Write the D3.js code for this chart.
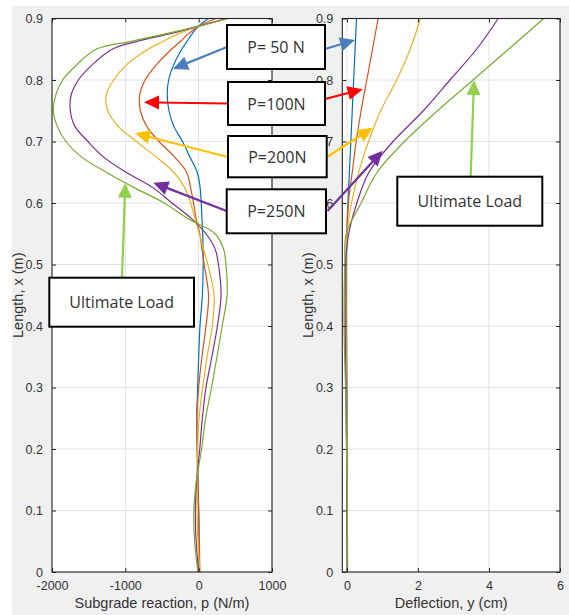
<!DOCTYPE html>
<html>
<head>
<meta charset="utf-8">
<script src="https://cdn.jsdelivr.net/npm/d3@7"></script>
<style>
  body { margin: 0; background: #ffffff; }
  svg text { font-family: "Liberation Sans", Arial, Helvetica, sans-serif; }
</style>
</head>
<body>
<svg id="fig" width="569" height="615"></svg>
<script>
// ---- Load cases ----
const loadCases = ["P= 50 N", "P=100N", "P=200N", "P=250N", "Ultimate Load"];
const lineColors = ["#0072BD", "#D95319", "#EDB120", "#7E2F8E", "#77AC30"];

// ---- Subgrade reaction p (N/m) along the pile length x (m) ----
const lengthPts = [0, 0.05, 0.1, 0.15, 0.2, 0.25, 0.3, 0.35, 0.4, 0.45, 0.5, 0.525, 0.55, 0.575,
                   0.6, 0.625, 0.65, 0.675, 0.7, 0.725, 0.75, 0.775, 0.8, 0.825, 0.85, 0.8625, 0.875, 0.8875, 0.9];
const reactionP50  = [5, 5, 0, -10, -20, -25, -14, 0, 18, 50, 62, 60, 55, 45, 35, 20, -20, -120, -220, -340,
                      -405, -428, -410, -340, -230, -160, -90, 0, 132];
const reactionP100 = [15, 10, 0, -10, -20, -25, 0, 45, 100, 135, 75, 45, 15, -35, -70, -110, -165, -330, -540, -710,
                      -795, -805, -730, -575, -370, -250, -140, 0, 237];
const reactionP200 = [20, -10, -20, -20, -15, 5, 55, 115, 185, 210, 125, 65, 10, -50, -110, -190, -340, -580, -850, -1100,
                      -1240, -1262, -1160, -980, -690, -490, -280, 0, 373];
const reactionP250 = [0, -35, -45, -27, 15, 50, 100, 180, 255, 305, 270, 225, 100, -100, -365, -625, -990, -1300, -1510, -1690,
                      -1750, -1740, -1640, -1450, -1180, -850, -400, 0, 390];
const reactionPult = [-10, -55, -65, -30, 40, 95, 175, 250, 320, 388, 372, 340, 225, -150, -470, -880, -1260, -1600, -1810, -1930,
                      -1982, -1950, -1855, -1660, -1400, -940, -450, 0, 405];

// ---- Deflection y (cm) along the pile length x (m) ----
const deflLengthPts = [0, 0.1, 0.2, 0.3, 0.4, 0.5, 0.55, 0.6, 0.65, 0.7, 0.75, 0.8, 0.85, 0.9];
const deflP50  = [0.01, 0.01, 0.005, 0, -0.01, -0.01, 0.0, 0.03, 0.07, 0.11, 0.15, 0.19, 0.23, 0.27];
const deflP100 = [0.01, 0.01, 0, -0.01, -0.02, -0.02, 0.0, 0.04, 0.15, 0.26, 0.40, 0.56, 0.72, 0.88];
const deflP200 = [0.02, 0.01, 0, -0.02, -0.03, -0.03, 0.0, 0.13, 0.33, 0.61, 0.95, 1.40, 1.78, 2.07];
const deflP250 = [0.01, 0, -0.01, -0.03, -0.05, -0.04, 0.05, 0.28, 0.62, 1.30, 2.15, 2.90, 3.65, 4.26];
const deflPult = [0.02, 0.01, -0.01, -0.04, -0.08, -0.06, -0.02, 0.40, 0.85, 1.62, 2.55, 3.55, 4.55, 5.54];

// ---- Tick labels ----
const lengthTicks = [0, 0.1, 0.2, 0.3, 0.4, 0.5, 0.6, 0.7, 0.8, 0.9];
const lengthTickLabels = ["0", "0.1", "0.2", "0.3", "0.4", "0.5", "0.6", "0.7", "0.8", "0.9"];
const reactionTicks = [-2000, -1000, 0, 1000];
const reactionTickLabels = ["-2000", "-1000", "0", "1000"];
const deflTicks = [0, 2, 4, 6];
const deflTickLabels = ["0", "2", "4", "6"];

const svg = d3.select("#fig");

// figure background
svg.append("rect").attr("x", 12).attr("y", 6).attr("width", 557).attr("height", 609).attr("fill", "#f0f0f0");

const plotTop = 18.5, plotBottom = 572;

function drawPanel(cfg) {
  const x = d3.scaleLinear().domain(cfg.xDomain).range([cfg.left, cfg.right]);
  const y = d3.scaleLinear().domain([0, 0.9]).range([plotBottom, plotTop]);
  const g = svg.append("g");

  g.append("rect")
    .attr("x", cfg.left).attr("y", plotTop)
    .attr("width", cfg.right - cfg.left).attr("height", plotBottom - plotTop)
    .attr("fill", "#ffffff");

  // grid
  g.append("g").selectAll("line").data(cfg.xTicks).join("line")
    .attr("x1", d => x(d)).attr("x2", d => x(d))
    .attr("y1", plotTop).attr("y2", plotBottom)
    .attr("stroke", "#e2e2e2").attr("stroke-width", 1);
  g.append("g").selectAll("line").data(lengthTicks).join("line")
    .attr("x1", cfg.left).attr("x2", cfg.right)
    .attr("y1", d => y(d)).attr("y2", d => y(d))
    .attr("stroke", "#e2e2e2").attr("stroke-width", 1);

  // curves
  const line = d3.line()
    .x(d => x(d[1]))
    .y(d => y(d[0]))
    .curve(d3.curveCatmullRom.alpha(0.5));
  cfg.series.forEach((vals, i) => {
    const pts = cfg.lengths.map((L, k) => [L, vals[k]]);
    g.append("path")
      .attr("d", line(pts))
      .attr("fill", "none")
      .attr("stroke", lineColors[i])
      .attr("stroke-width", 1.2);
  });

  // axes with inward ticks on all sides
  const styleAxis = sel => {
    sel.select(".domain").remove();
    sel.selectAll(".tick line").attr("stroke", "#262626");
    sel.selectAll(".tick text").attr("fill", "#333333")
      .style("font-size", "12.5px").style("font-family", "'Liberation Sans', Arial, sans-serif");
  };
  g.append("g").attr("transform", `translate(${cfg.left},0)`)
    .call(d3.axisLeft(y).tickValues(lengthTicks).tickSize(-4).tickPadding(9)
      .tickFormat((d, i) => lengthTickLabels[i]))
    .call(styleAxis);
  g.append("g").attr("transform", `translate(${cfg.right},0)`)
    .call(d3.axisRight(y).tickValues(lengthTicks).tickSize(-4).tickFormat(""))
    .call(styleAxis);
  g.append("g").attr("transform", `translate(0,${plotBottom})`)
    .call(d3.axisBottom(x).tickValues(cfg.xTicks).tickSize(-4).tickPadding(9)
      .tickFormat((d, i) => cfg.xTickLabels[i]))
    .call(styleAxis);
  g.append("g").attr("transform", `translate(0,${plotTop})`)
    .call(d3.axisTop(x).tickValues(cfg.xTicks).tickSize(-4).tickFormat(""))
    .call(styleAxis);

  // box
  g.append("rect")
    .attr("x", cfg.left).attr("y", plotTop)
    .attr("width", cfg.right - cfg.left).attr("height", plotBottom - plotTop)
    .attr("fill", "none").attr("stroke", "#262626").attr("stroke-width", 1.1);

  // axis titles
  g.append("text")
    .attr("x", (cfg.left + cfg.right) / 2).attr("y", 608)
    .attr("text-anchor", "middle").attr("fill", "#333333")
    .style("font-size", "14.5px")
    .text(cfg.xTitle);
  g.append("text")
    .attr("transform", `translate(${cfg.yTitleX},${(plotTop + plotBottom) / 2}) rotate(-90)`)
    .attr("text-anchor", "middle").attr("fill", "#333333")
    .style("font-size", "14.5px")
    .text("Length, x (m)");
}

drawPanel({
  left: 52, right: 272,
  xDomain: [-2000, 1000],
  xTicks: reactionTicks, xTickLabels: reactionTickLabels,
  lengths: lengthPts,
  series: [reactionP50, reactionP100, reactionP200, reactionP250, reactionPult],
  xTitle: "Subgrade reaction, p (N/m)",
  yTitleX: 23
});

drawPanel({
  left: 342.3, right: 560,
  xDomain: [-0.13, 6],
  xTicks: deflTicks, xTickLabels: deflTickLabels,
  lengths: deflLengthPts,
  series: [deflP50, deflP100, deflP200, deflP250, deflPult],
  xTitle: "Deflection, y (cm)",
  yTitleX: 313
});

// ---- Callout boxes and arrows ----
const calloutColors = ["#4a7ebb", "#ff0000", "#ffc000", "#7030a0", "#92d050"];
const callouts = [
  { text: "P= 50 N", box: [227, 25, 325, 69], arrows: [[227, 47, 173, 69], [325, 49, 355, 40]] },
  { text: "P=100N", box: [228, 82, 325, 125], arrows: [[228, 103.5, 144, 102.3], [325, 99, 362.7, 89.3]] },
  { text: "P=200N", box: [228, 136, 326.7, 177.3], arrows: [[228, 157, 135, 133.3], [327, 157, 372.7, 127.7]] },
  { text: "P=250N", box: [226.7, 189.3, 326, 233.3], arrows: [[226.7, 211, 153.3, 182.7], [327.5, 211, 382.7, 150.7]] },
  { text: "Ultimate Load", box: [49.3, 277.7, 194, 326.7], arrows: [[122, 277.7, 125.3, 182.7]] },
  { text: "Ultimate Load", box: [397.3, 176.7, 542.3, 225.7], arrows: [[470.7, 176, 474, 80]] }
];
const colorIndex = [0, 1, 2, 3, 4, 4];

const ann = svg.append("g");
callouts.forEach((c, i) => {
  const col = calloutColors[colorIndex[i]];
  c.arrows.forEach(a => {
    const [x1, y1, x2, y2] = a;
    const dx = x2 - x1, dy = y2 - y1, len = Math.hypot(dx, dy);
    const ux = dx / len, uy = dy / len;
    const headL = 15, headW = 7;
    const bx = x2 - ux * headL, by = y2 - uy * headL;
    ann.append("line")
      .attr("x1", x1).attr("y1", y1).attr("x2", bx + ux * 2).attr("y2", by + uy * 2)
      .attr("stroke", col).attr("stroke-width", 2.2);
    ann.append("path")
      .attr("d", `M${x2},${y2}L${bx - uy * headW},${by + ux * headW}L${bx + uy * headW},${by - ux * headW}Z`)
      .attr("fill", col);
  });
  const [bx1, by1, bx2, by2] = c.box;
  ann.append("rect")
    .attr("x", bx1).attr("y", by1).attr("width", bx2 - bx1).attr("height", by2 - by1)
    .attr("fill", "#ffffff").attr("stroke", "#000000").attr("stroke-width", 2);
  ann.append("text")
    .attr("x", (bx1 + bx2) / 2).attr("y", (by1 + by2) / 2)
    .attr("text-anchor", "middle").attr("dominant-baseline", "central")
    .attr("fill", "#333333")
    .style("font-family", "'Open Sans', 'Noto Sans', sans-serif")
    .style("font-size", "16px")
    .text(c.text);
});
</script>
</body>
</html>
